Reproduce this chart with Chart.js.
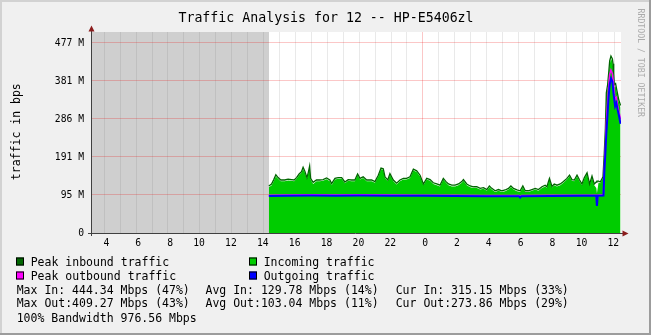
<!DOCTYPE html>
<html><head><meta charset="utf-8">
<script src="https://cdn.jsdelivr.net/npm/chart.js@4.4.1/dist/chart.umd.min.js"></script>
<style>html,body{margin:0;padding:0;background:#f0f0f0;}canvas{display:block;}</style>
</head><body>
<canvas id="c" width="651" height="335"></canvas>
<script>
// ---- data (values in M, base 1024, as on the axis) ----
const inHours = [14.33,14.50,14.64,14.77,14.91,15.08,15.33,15.54,15.75,15.92,16.07,16.23,16.38,16.48,16.59,16.72,16.80,16.89,16.95,17.11,17.32,17.53,17.74,17.95,18.16,18.27,18.48,18.68,18.90,19.10,19.31,19.52,19.73,19.90,20.05,20.25,20.47,20.78,20.99,21.20,21.37,21.51,21.62,21.79,21.93,22.14,22.35,22.56,22.77,22.98,23.19,23.40,23.61,23.82,24.03,24.24,24.45,24.65,24.87,25.07,25.28,25.45,25.60,25.81,26.02,26.23,26.44,26.54,26.75,26.96,27.17,27.38,27.59,27.80,28.01,28.17,28.32,28.53,28.74,28.95,29.16,29.37,29.52,29.68,29.90,30.10,30.27,30.42,30.62,30.84,31.05,31.25,31.47,31.67,31.78,31.94,32.10,32.24,32.41,32.62,32.82,33.04,33.20,33.35,33.50,33.67,33.83,33.98,34.13,34.30,34.46,34.61,34.75,34.88,34.92,35.02,35.13,35.30,35.38,35.45,35.51,35.59,35.65,35.72,35.80,35.89,35.93,35.97,36.01,36.09,36.18,36.28,36.40];
const inValues = [115,119,130,142,136,130,130,132,131,130,136,145,151,161,151,136,148,163,134,123,130,130,131,135,130,120,134,136,136,125,131,130,130,145,134,138,130,130,126,142,160,158,138,130,146,130,122,130,134,134,138,157,153,142,120,134,131,123,120,117,134,126,120,117,117,120,126,131,120,115,113,113,109,111,106,115,109,103,106,103,105,109,115,109,105,103,115,103,103,106,109,106,113,117,113,134,114,120,117,120,126,134,142,131,130,142,130,120,136,148,120,140,120,113,100,126,125,138,196,255,345,365,389,422,438,430,418,395,365,368,350,330,315];
const peakInValues = [118,123,134,146,139,133,133,135,134,133,139,148,154,165,155,139,151,168,137,127,133,133,134,138,133,124,137,139,139,128,134,133,133,148,137,141,133,133,129,145,163,161,141,133,149,133,125,133,137,137,141,160,156,145,123,137,134,126,123,120,137,129,123,120,120,123,129,134,123,118,116,116,112,114,109,118,112,106,109,106,108,112,118,112,108,106,118,106,106,109,112,109,116,120,116,137,117,123,120,123,129,137,145,134,133,145,133,123,139,151,123,143,123,128,130,130,128,141,200,262,352,372,398,432,444,437,425,402,372,375,356,336,320];
const outHours = [14.33,15.50,17.00,18.50,20.00,22.00,24.00,26.00,28.00,30.02,30.10,30.18,32.00,34.00,34.88,34.92,34.97,35.33,35.38,35.45,35.51,35.59,35.65,35.72,35.80,35.89,35.97,36.06,36.14,36.22,36.30,36.40];
const outValues = [93,93.5,94,93.5,94,93.5,93.5,93,92.5,92.5,89,92.5,93,93.5,93.5,68,93.5,94,150,200,250,300,340,372,388,380,347,318,326,309,295,274];
const peakOutValues = [95,95.5,96,95.5,96,95.5,95,94.5,94,94,91,94,94.5,95,95,70,95,96,160,215,280,330,365,398,409,400,372,335,340,320,305,285];

const yTickValues = [0, 95.37, 190.73, 286.10, 381.47, 476.84];
const yTickLabels = ['0', '95 M', '191 M', '286 M', '381 M', '477 M'];
const xMin = 3.17, xMax = 36.43, yMax = 504.4;

const titleText = 'Traffic Analysis for 12 -- HP-E5406zl';
const yAxisTitle = 'traffic in bps';
const watermark = 'RRDTOOL / TOBI OETIKER';
const legendNames = ['Peak inbound traffic', 'Incoming traffic', 'Peak outbound traffic', 'Outgoing traffic'];
const legendColors = ['#006600', '#00cc00', '#ff00ff', '#0000ff'];
const statsIn = ['Max In: 444.34 Mbps (47%)', 'Avg In: 129.78 Mbps (14%)', 'Cur In: 315.15 Mbps (33%)'];
const statsOut = ['Max Out:409.27 Mbps (43%)', 'Avg Out:103.04 Mbps (11%)', 'Cur Out:273.86 Mbps (29%)'];
const bandwidthText = '100% Bandwidth 976.56 Mbps';

const MONO = "'DejaVu Sans Mono', monospace";

const pts = (xs, ys) => xs.map((h, i) => ({x: h, y: ys[i]}));

const framePlugin = {
  id: 'frame',
  beforeDraw(chart) {
    const {ctx, chartArea: a, scales: {x}} = chart;
    ctx.save();
    ctx.fillStyle = '#f0f0f0'; ctx.fillRect(0, 0, 651, 335);
    ctx.fillStyle = '#d2d2d2'; ctx.fillRect(0, 0, 651, 2); ctx.fillRect(0, 0, 2, 335);
    ctx.fillStyle = '#9c9c9c'; ctx.fillRect(0, 333, 651, 2); ctx.fillRect(649, 0, 2, 335);
    ctx.fillStyle = '#ffffff'; ctx.fillRect(a.left, a.top, a.right - a.left, a.bottom - a.top);
    const gx = Math.round(x.getPixelForValue(inHours[0]));
    ctx.fillStyle = '#cfcfcf'; ctx.fillRect(a.left, a.top, gx - a.left, a.bottom - a.top);
    ctx.restore();
  },
  afterDraw(chart) {
    const {ctx, chartArea: a} = chart;
    ctx.save();
    // axes
    ctx.strokeStyle = '#404040'; ctx.lineWidth = 1;
    ctx.beginPath();
    ctx.moveTo(a.left + 0.5, a.bottom + 3); ctx.lineTo(a.left + 0.5, a.top - 1);
    ctx.moveTo(a.left - 3, a.bottom + 0.5); ctx.lineTo(a.right + 2, a.bottom + 0.5);
    ctx.stroke();
    ctx.fillStyle = '#8b1c1c';
    ctx.beginPath();
    ctx.moveTo(a.left + 0.5, a.top - 6.5); ctx.lineTo(a.left - 2.5, a.top - 0.5); ctx.lineTo(a.left + 3.5, a.top - 0.5); ctx.closePath();
    ctx.fill();
    ctx.beginPath();
    ctx.moveTo(a.right + 7.5, a.bottom + 0.5); ctx.lineTo(a.right + 1.5, a.bottom - 2.5); ctx.lineTo(a.right + 1.5, a.bottom + 3.5); ctx.closePath();
    ctx.fill();

    // title
    ctx.fillStyle = '#000';
    ctx.textBaseline = 'alphabetic';
    ctx.font = '13.25px ' + MONO;
    ctx.textAlign = 'center';
    ctx.fillText(titleText, 326, 21.7);

    // y axis title
    ctx.save();
    ctx.font = '11.5px ' + MONO;
    ctx.translate(20, 131.7);
    ctx.rotate(-Math.PI / 2);
    ctx.textAlign = 'center';
    ctx.fillText(yAxisTitle, 0, 0);
    ctx.restore();

    // watermark
    ctx.save();
    ctx.font = '8.2px ' + MONO;
    ctx.fillStyle = '#ababab';
    ctx.translate(637.5, 62.8);
    ctx.rotate(Math.PI / 2);
    ctx.textAlign = 'center';
    ctx.fillText(watermark, 0, 0);
    ctx.restore();

    // legend
    ctx.font = '11.5px ' + MONO;
    ctx.textAlign = 'left';
    const colX = [16, 249];
    const baseY = [265.5, 279.5];
    legendNames.forEach((name, i) => {
      const cx = colX[i % 2], by = baseY[Math.floor(i / 2)];
      ctx.fillStyle = legendColors[i];
      ctx.fillRect(cx, by - 8, 8, 8);
      ctx.strokeStyle = '#000';
      ctx.lineWidth = 1;
      ctx.strokeRect(cx + 0.5, by - 7.5, 7, 7);
      ctx.fillStyle = '#000';
      ctx.fillText(name, cx + 14.7, by);
    });
    const statX = [16.7, 205.5, 395.7];
    statsIn.forEach((t, i) => ctx.fillText(t, statX[i], 293.5));
    statsOut.forEach((t, i) => ctx.fillText(t, statX[i], 307.3));
    ctx.fillText(bandwidthText, 16.7, 321.5);
    ctx.restore();
  }
};

new Chart(document.getElementById('c'), {
  type: 'line',
  data: {
    datasets: [
      {label: 'Outgoing traffic', data: pts(outHours, outValues), borderColor: '#0000ff', borderWidth: 2, fill: false},
      {label: 'Peak outbound traffic', data: pts(outHours, peakOutValues), borderColor: '#ff00ff', borderWidth: 1.5, fill: false},
      {label: 'Peak inbound traffic', data: pts(inHours, peakInValues), borderColor: '#006600', borderWidth: 1.3, fill: false},
      {label: 'Incoming traffic', data: pts(inHours, inValues), borderColor: 'rgba(0,0,0,0)', borderWidth: 0, backgroundColor: '#00cc00', fill: 'origin'}
    ]
  },
  options: {
    responsive: false,
    animation: false,
    devicePixelRatio: 1,
    layout: {padding: {top: 32, right: 30, left: 0, bottom: 0}},
    elements: {point: {radius: 0}, line: {tension: 0}},
    plugins: {legend: {display: false}, tooltip: {enabled: false}},
    scales: {
      x: {
        type: 'linear', min: xMin, max: xMax,
        afterFit(s) { s.height = 102; },
        border: {display: false},
        grid: {
          drawTicks: false, lineWidth: 1,
          color: (c) => (c.tick && c.tick.value === 24) ? 'rgba(235,0,0,0.22)' : 'rgba(110,110,110,0.15)'
        },
        ticks: {
          stepSize: 1, includeBounds: false, autoSkip: false, maxRotation: 0, minRotation: 0,
          labelOffset: -0.8, padding: 5, color: '#000',
          font: {family: MONO, size: 9.7},
          callback: (v) => {
            const h = Math.round(v);
            if (h % 2) return '';
            const l = String(h % 24);
            return l.length === 1 ? ' ' + l : l;
          }
        }
      },
      y: {
        min: 0, max: yMax,
        afterFit(s) { s.width = 91; },
        afterBuildTicks(s) { s.ticks = yTickValues.map(v => ({value: v})); },
        border: {display: false},
        grid: {
          drawTicks: false, lineWidth: 1,
          color: (c) => (c.tick && c.tick.value === 0) ? 'rgba(0,0,0,0)' : 'rgba(235,0,0,0.22)'
        },
        ticks: {
          padding: 7, color: '#000',
          font: {family: MONO, size: 9.7},
          callback: (v, i) => yTickLabels[i]
        }
      }
    }
  },
  plugins: [framePlugin]
});
</script>
</body></html>
